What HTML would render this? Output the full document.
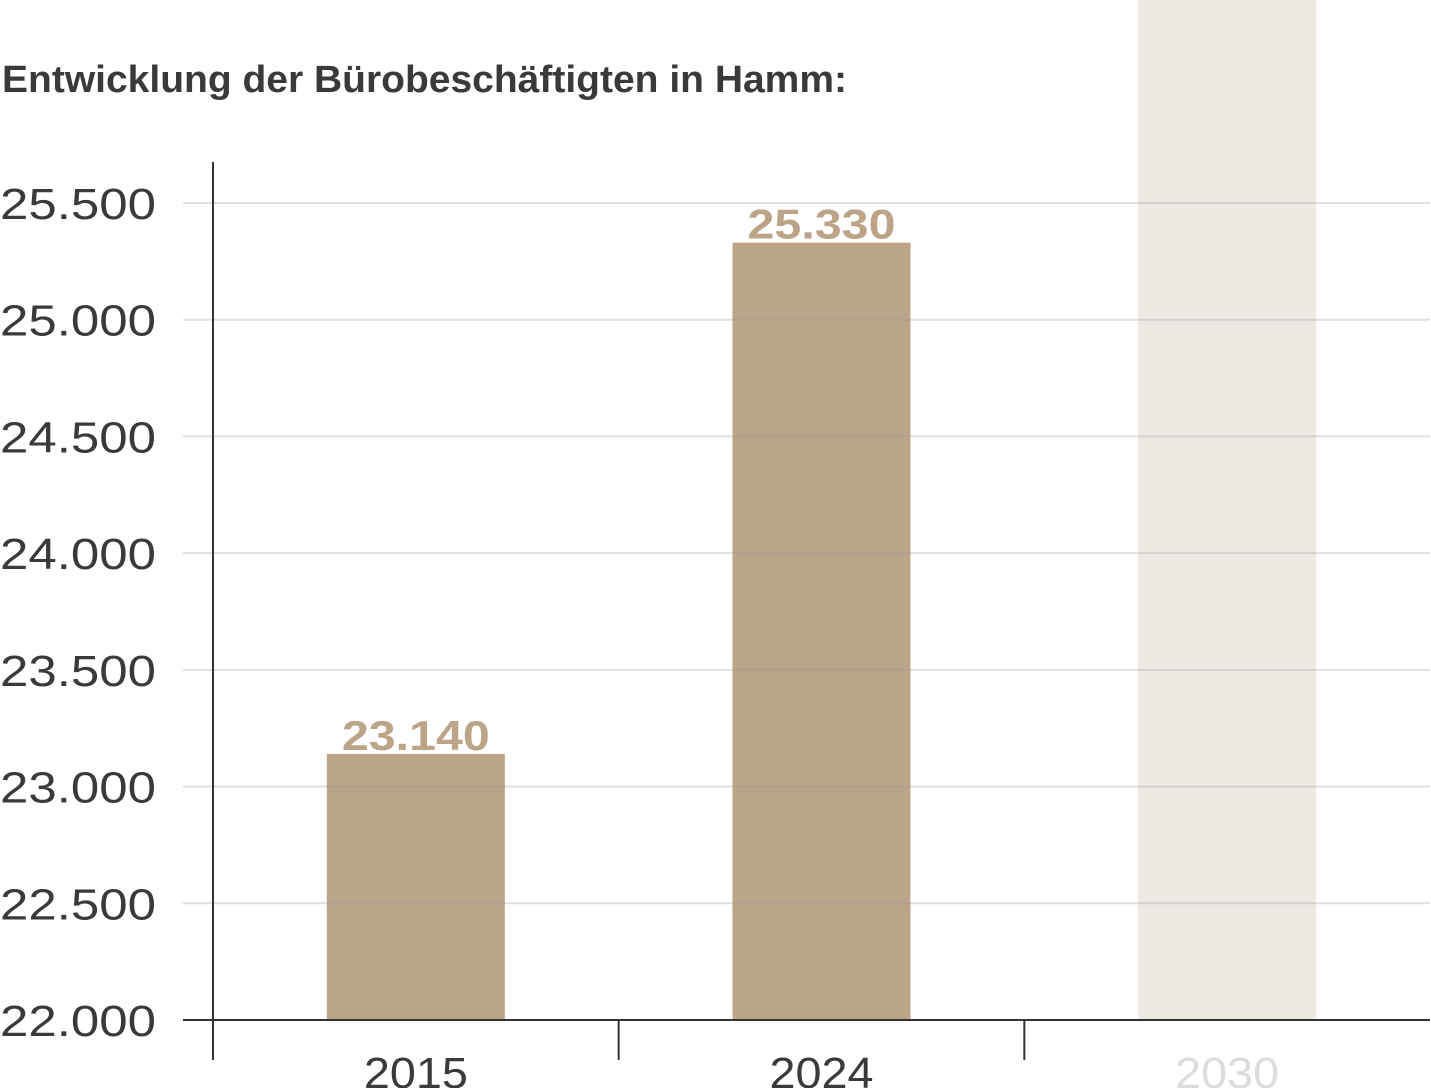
<!DOCTYPE html>
<html><head><meta charset="utf-8"><style>
html,body{margin:0;padding:0;background:#fff;}
svg{display:block;font-family:"Liberation Sans",sans-serif;}
</style></head><body>
<svg id="chart" width="1431" height="1088" viewBox="0 0 1431 1088">
<text x="2" y="92" font-size="38" font-weight="bold" fill="#3a3a3a" textLength="845" lengthAdjust="spacingAndGlyphs">Entwicklung der Bürobeschäftigten in Hamm:</text>
<g id="bars"></g><g id="grid"></g><g id="axes"></g><g id="labels"></g>
</svg>
<script>
const categories = ["2015","2024","2030"];
const values = [23140, 25330, null];
const valueLabels = ["23.140","25.330",""];
const yTicks = [22000,22500,23000,23500,24000,24500,25000,25500];
const yTickLabels = ["22.000","22.500","23.000","23.500","24.000","24.500","25.000","25.500"];
const yMin=22000, yMax=25500, py0=1020, py1=203;
const x0=213, x1=1430;
const NS="http://www.w3.org/2000/svg";
function y(v){return py0-(v-yMin)/(yMax-yMin)*(py0-py1);}
const bw=(x1-x0)/categories.length;
function xc(i){return x0+bw*(i+0.5);}
function mk(tag,attrs,parent){const e=document.createElementNS(NS,tag);for(const k in attrs)e.setAttribute(k,attrs[k]);document.getElementById(parent).appendChild(e);return e;}
categories.forEach((c,i)=>{
  const w=178, cx=xc(i);
  let r;
  if(values[i]===null){
    r=mk('rect',{x:cx-w/2,y:0,width:w,height:py0,fill:'#efe9e3'},'bars');
    
    
  } else {
    const top=y(values[i]);
    r=mk('rect',{x:cx-w/2,y:top,width:w,height:py0-top,fill:'#bca489'},'bars');
    
    
    const t=mk('text',{x:cx,y:top-4,'text-anchor':'middle','font-size':'42','font-weight':'bold',fill:'#bca489',textLength:'148',lengthAdjust:'spacingAndGlyphs'},'labels');
    t.textContent=valueLabels[i];
    
    
  }
  const xl=mk('text',{x:cx,y:1088,'text-anchor':'middle','font-size':'44',fill:i===2?'#dcdcdc':'#3a3a3a',textLength:'104',lengthAdjust:'spacingAndGlyphs'},'labels');
  xl.textContent=c;
  
  
});
yTicks.forEach((v,i)=>{
  if(v!==yMin){
    const g=mk('line',{x1:183,x2:x1,y1:y(v),y2:y(v),stroke:'#999','stroke-opacity':'0.3','stroke-width':'2'},'grid');
    
    
  }
  const t=mk('text',{x:156,y:y(v)+16,'text-anchor':'end','font-size':'44',fill:'#3a3a3a',textLength:'156',lengthAdjust:'spacingAndGlyphs'},'labels');
  t.textContent=yTickLabels[i];
  
  
});
const ax=mk('line',{x1:183,x2:x1,y1:py0,y2:py0,stroke:'#333','stroke-width':'2'},'axes');


const ay=mk('line',{x1:x0,x2:x0,y1:162,y2:1060,stroke:'#333','stroke-width':'2'},'axes');


for(let i=1;i<categories.length;i++){
  const tk=mk('line',{x1:x0+bw*i,x2:x0+bw*i,y1:py0,y2:1060,stroke:'#333','stroke-width':'2'},'axes');
  
  
}
</script>
</body></html>
